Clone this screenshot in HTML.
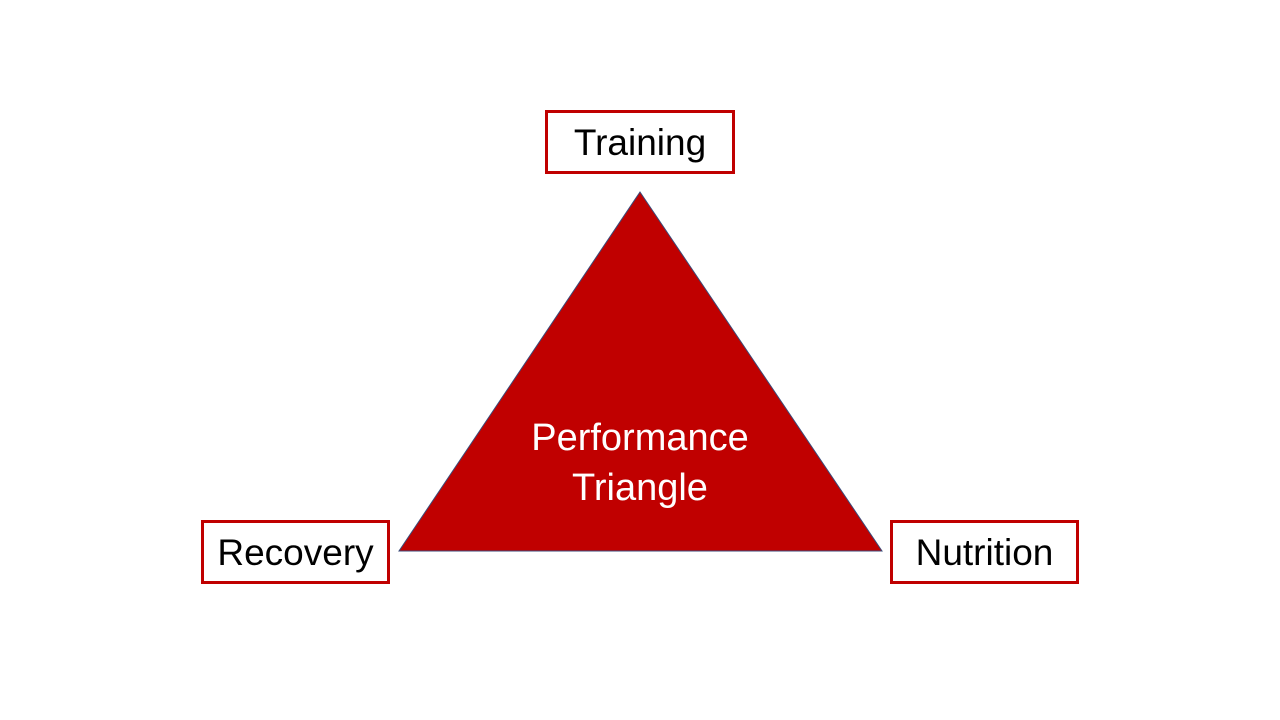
<!DOCTYPE html>
<html><head><style>
body{margin:0;width:1280px;height:720px;background:#fff;position:relative;overflow:hidden;font-family:"Liberation Sans",sans-serif}
.b{position:absolute;box-sizing:border-box;border:3px solid #c00000;background:#fff;display:flex;align-items:center;justify-content:center;font-size:37px;color:#000;padding-top:2px}
.t{position:absolute;left:440px;width:400px;text-align:center;color:#fff;font-size:38px;line-height:50px}
</style></head><body>
<svg width="1280" height="720" style="position:absolute;left:0;top:0">
<polygon points="640,192 399,551 882,551" fill="#c00000" stroke="#3b4a78" stroke-width="1"/>
</svg>
<div class="t" style="top:413px">Performance<br>Triangle</div>
<div class="b" style="left:545px;top:110px;width:190px;height:64px">Training</div>
<div class="b" style="left:201px;top:520px;width:189px;height:64px">Recovery</div>
<div class="b" style="left:890px;top:520px;width:189px;height:64px">Nutrition</div>
</body></html>
